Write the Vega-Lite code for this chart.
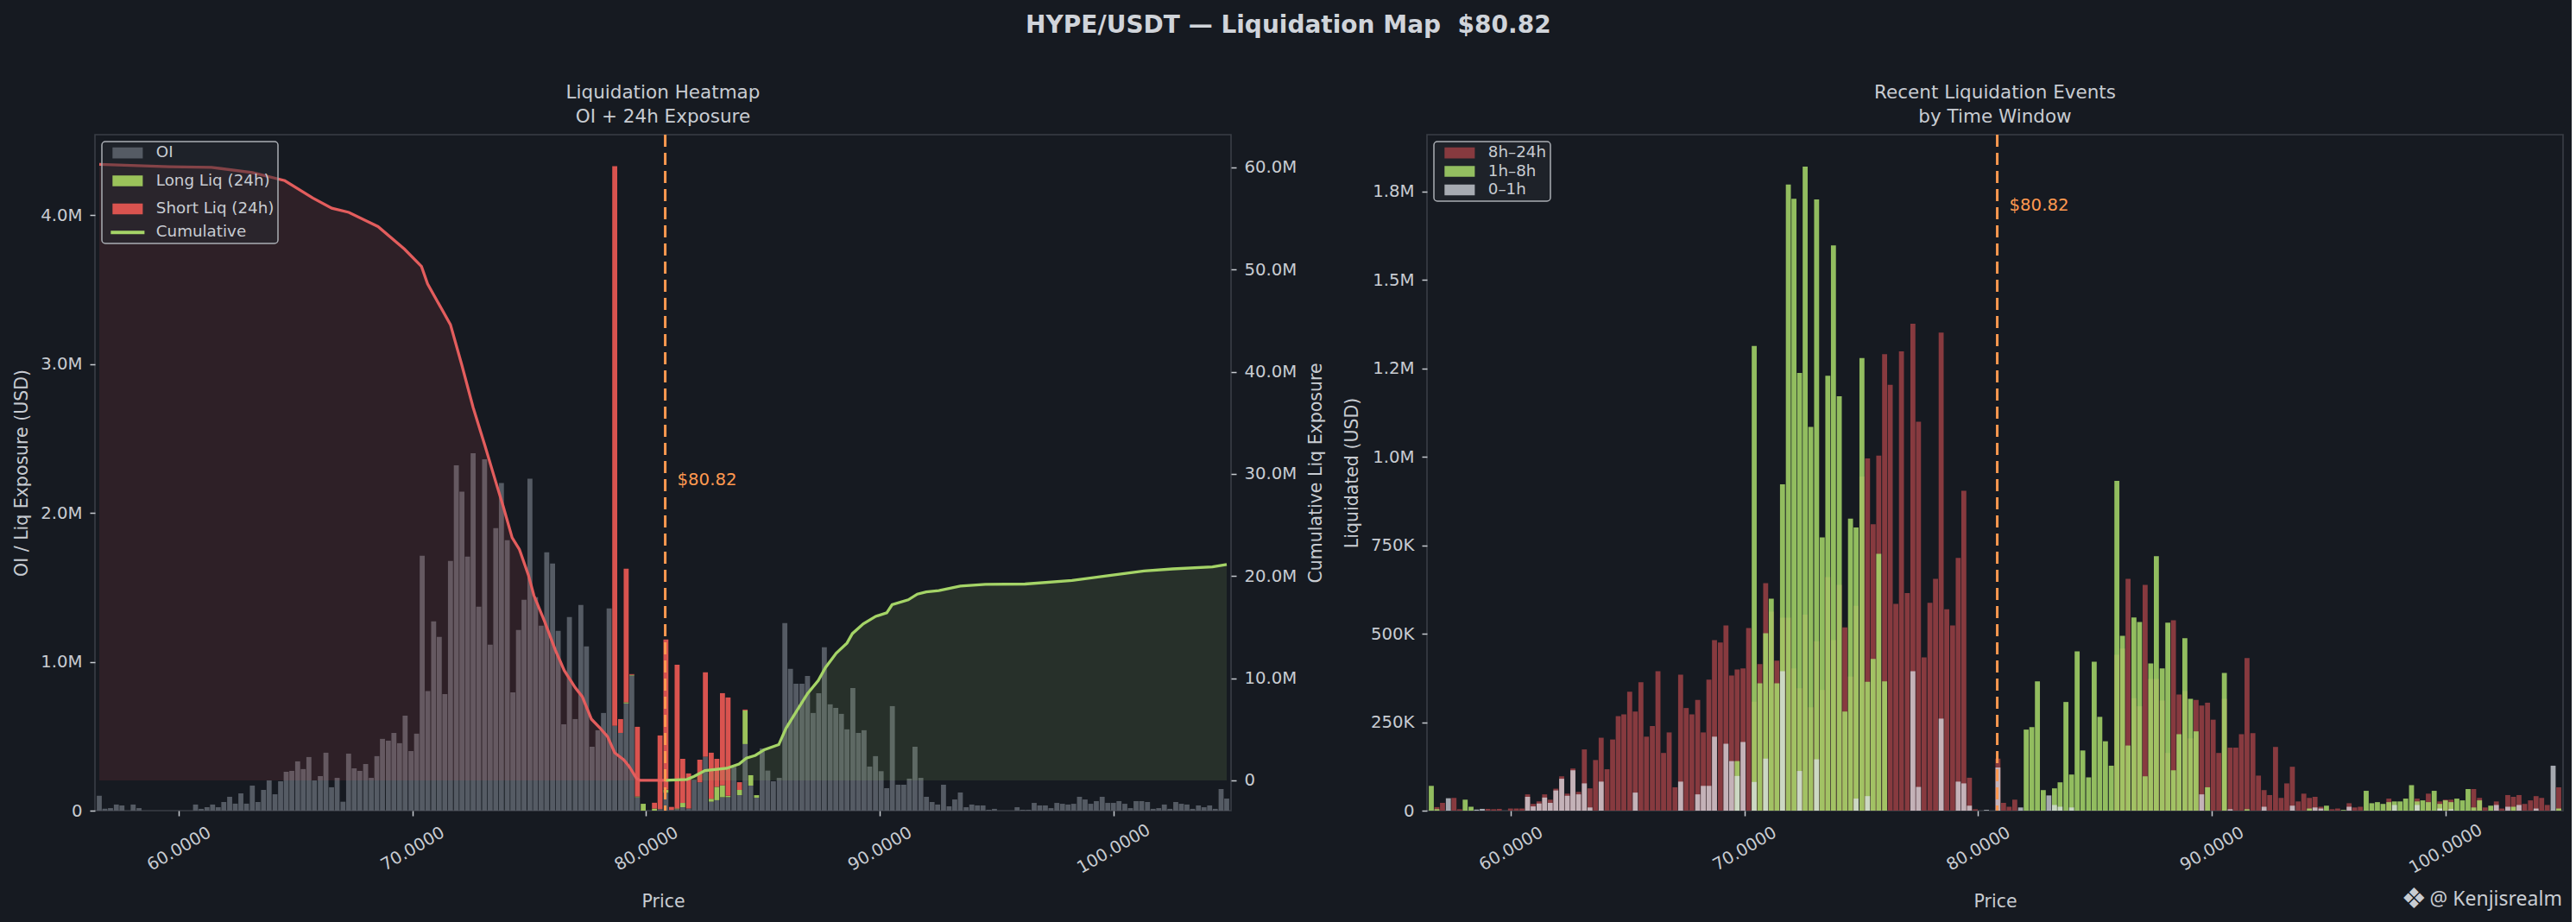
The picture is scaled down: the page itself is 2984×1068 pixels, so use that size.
{
"$schema":"https://vega.github.io/schema/vega-lite/v6.json",
"background":"#161a21",
"padding":{"left":14,"top":15,"right":9,"bottom":10},
"title":{"text":"HYPE/USDT — Liquidation Map\u00a0 $80.82","fontSize":28,"fontWeight":"bold","color":"#d0d4da","anchor":"middle","frame":"bounds","offset":52,"font":"DejaVu Sans","lineHeight":28},
"config":{
"font":"DejaVu Sans",
"view":{"stroke":"#3a3e46","strokeWidth":1.6},
"axis":{"labelFont":"DejaVu Sans","labelFontSize":19.7,"labelColor":"#c8ccd2","tickColor":"#c8ccd2","tickSize":6,"tickWidth":1.5,"domain":false,"grid":false,"titleFont":"DejaVu Sans","titleFontSize":20.5,"titleFontWeight":"normal","titleColor":"#c8ccd2","labelPadding":9,"titlePadding":11},
"title":{"font":"DejaVu Sans","fontSize":21.5,"fontWeight":"normal","color":"#c8ccd2","lineHeight":28,"offset":8.5},
"legend":{"title":null,"orient":"top-left","offset":8,"padding":4,"fillColor":"rgba(38,42,50,0.5)","strokeColor":"#aaaeb4","cornerRadius":4,"labelFont":"DejaVu Sans","labelFontSize":18.3,"labelColor":"#c8ccd2","symbolType":"M-2.78,-1H2.78V1H-2.78Z","symbolSize":159,"symbolOffset":16.7,"labelOffset":23.8,"rowPadding":2.4,"symbolStrokeWidth":0}
},
"datasets":{
"oi":[
{"p":56.60,"v":100000,"t":"OI","o":0},{"p":56.84,"v":13000,"t":"OI","o":0},{"p":57.08,"v":17000,"t":"OI","o":0},{"p":57.33,"v":41000,"t":"OI","o":0},{"p":57.57,"v":35000,"t":"OI","o":0},{"p":58.05,"v":41000,"t":"OI","o":0},{"p":58.30,"v":17000,"t":"OI","o":0},
{"p":60.72,"v":41000,"t":"OI","o":0},{"p":60.96,"v":12000,"t":"OI","o":0},{"p":61.21,"v":23000,"t":"OI","o":0},{"p":61.45,"v":41000,"t":"OI","o":0},{"p":61.69,"v":23000,"t":"OI","o":0},{"p":61.93,"v":58000,"t":"OI","o":0},{"p":62.18,"v":93000,"t":"OI","o":0},{"p":62.42,"v":47000,"t":"OI","o":0},{"p":62.66,"v":116000,"t":"OI","o":0},{"p":62.90,"v":47000,"t":"OI","o":0},
{"p":63.15,"v":168000,"t":"OI","o":0},{"p":63.39,"v":58000,"t":"OI","o":0},{"p":63.63,"v":139000,"t":"OI","o":0},{"p":63.87,"v":203000,"t":"OI","o":0},{"p":64.12,"v":110000,"t":"OI","o":0},{"p":64.36,"v":197000,"t":"OI","o":0},{"p":64.60,"v":261000,"t":"OI","o":0},{"p":64.84,"v":267000,"t":"OI","o":0},{"p":65.09,"v":331000,"t":"OI","o":0},{"p":65.33,"v":279000,"t":"OI","o":0},
{"p":65.57,"v":360000,"t":"OI","o":0},{"p":65.81,"v":203000,"t":"OI","o":0},{"p":66.06,"v":232000,"t":"OI","o":0},{"p":66.30,"v":389000,"t":"OI","o":0},{"p":66.54,"v":157000,"t":"OI","o":0},{"p":66.78,"v":220000,"t":"OI","o":0},{"p":67.03,"v":60000,"t":"OI","o":0},{"p":67.27,"v":383000,"t":"OI","o":0},{"p":67.51,"v":284000,"t":"OI","o":0},{"p":67.75,"v":267000,"t":"OI","o":0},
{"p":68.00,"v":313000,"t":"OI","o":0},{"p":68.24,"v":220000,"t":"OI","o":0},{"p":68.48,"v":366000,"t":"OI","o":0},{"p":68.72,"v":482000,"t":"OI","o":0},{"p":68.97,"v":470000,"t":"OI","o":0},{"p":69.21,"v":522000,"t":"OI","o":0},{"p":69.45,"v":453000,"t":"OI","o":0},{"p":69.69,"v":638000,"t":"OI","o":0},{"p":69.94,"v":400000,"t":"OI","o":0},{"p":70.18,"v":517000,"t":"OI","o":0},
{"p":70.42,"v":1712000,"t":"OI","o":0},{"p":70.66,"v":803000,"t":"OI","o":0},{"p":70.91,"v":1271000,"t":"OI","o":0},{"p":71.15,"v":1167000,"t":"OI","o":0},{"p":71.39,"v":783000,"t":"OI","o":0},{"p":71.63,"v":1677000,"t":"OI","o":0},{"p":71.88,"v":2320000,"t":"OI","o":0},{"p":72.12,"v":2142000,"t":"OI","o":0},{"p":72.36,"v":1706000,"t":"OI","o":0},{"p":72.60,"v":2400000,"t":"OI","o":0},
{"p":72.84,"v":1370000,"t":"OI","o":0},{"p":73.09,"v":2360000,"t":"OI","o":0},{"p":73.33,"v":1114000,"t":"OI","o":0},{"p":73.57,"v":1898000,"t":"OI","o":0},{"p":73.81,"v":2200000,"t":"OI","o":0},{"p":74.06,"v":1817000,"t":"OI","o":0},{"p":74.30,"v":795000,"t":"OI","o":0},{"p":74.54,"v":1213000,"t":"OI","o":0},{"p":74.78,"v":1416000,"t":"OI","o":0},{"p":75.03,"v":2230000,"t":"OI","o":0},
{"p":75.27,"v":1434000,"t":"OI","o":0},{"p":75.51,"v":1242000,"t":"OI","o":0},{"p":75.75,"v":1735000,"t":"OI","o":0},{"p":76.00,"v":1660000,"t":"OI","o":0},{"p":76.24,"v":1207000,"t":"OI","o":0},{"p":76.48,"v":580000,"t":"OI","o":0},{"p":76.72,"v":1300000,"t":"OI","o":0},{"p":76.97,"v":615000,"t":"OI","o":0},{"p":77.21,"v":1381000,"t":"OI","o":0},{"p":77.45,"v":1103000,"t":"OI","o":0},
{"p":77.69,"v":429000,"t":"OI","o":0},{"p":77.94,"v":540000,"t":"OI","o":0},{"p":78.18,"v":656000,"t":"OI","o":0},{"p":78.42,"v":1358000,"t":"OI","o":0},{"p":78.66,"v":569000,"t":"OI","o":0},{"p":78.91,"v":522000,"t":"OI","o":0},{"p":79.15,"v":720000,"t":"OI","o":0},{"p":79.39,"v":907000,"t":"OI","o":0},{"p":79.63,"v":90000,"t":"OI","o":0},{"p":80.60,"v":10000,"t":"OI","o":0},
{"p":80.85,"v":120000,"t":"OI","o":0},{"p":81.09,"v":5000,"t":"OI","o":0},{"p":81.33,"v":10000,"t":"OI","o":0},{"p":81.57,"v":23000,"t":"OI","o":0},{"p":81.82,"v":14000,"t":"OI","o":0},{"p":82.06,"v":207000,"t":"OI","o":0},{"p":82.30,"v":190000,"t":"OI","o":0},{"p":82.54,"v":362000,"t":"OI","o":0},{"p":82.79,"v":60000,"t":"OI","o":0},{"p":83.03,"v":70000,"t":"OI","o":0},
{"p":83.27,"v":90000,"t":"OI","o":0},{"p":83.51,"v":90000,"t":"OI","o":0},{"p":83.76,"v":294000,"t":"OI","o":0},{"p":84.00,"v":104000,"t":"OI","o":0},{"p":84.24,"v":447000,"t":"OI","o":0},{"p":84.48,"v":168000,"t":"OI","o":0},{"p":84.73,"v":87000,"t":"OI","o":0},{"p":84.97,"v":418000,"t":"OI","o":0},{"p":85.21,"v":269000,"t":"OI","o":0},{"p":85.45,"v":197000,"t":"OI","o":0},
{"p":85.70,"v":220000,"t":"OI","o":0},{"p":85.94,"v":1259000,"t":"OI","o":0},{"p":86.18,"v":952000,"t":"OI","o":0},{"p":86.42,"v":853000,"t":"OI","o":0},{"p":86.67,"v":853000,"t":"OI","o":0},{"p":86.91,"v":905000,"t":"OI","o":0},{"p":87.15,"v":656000,"t":"OI","o":0},{"p":87.39,"v":789000,"t":"OI","o":0},{"p":87.63,"v":1097000,"t":"OI","o":0},{"p":87.88,"v":714000,"t":"OI","o":0},
{"p":88.12,"v":690000,"t":"OI","o":0},{"p":88.36,"v":650000,"t":"OI","o":0},{"p":88.60,"v":546000,"t":"OI","o":0},{"p":88.85,"v":824000,"t":"OI","o":0},{"p":89.09,"v":522000,"t":"OI","o":0},{"p":89.33,"v":540000,"t":"OI","o":0},{"p":89.57,"v":296000,"t":"OI","o":0},{"p":89.82,"v":366000,"t":"OI","o":0},{"p":90.06,"v":265000,"t":"OI","o":0},{"p":90.30,"v":151000,"t":"OI","o":0},
{"p":90.54,"v":702000,"t":"OI","o":0},{"p":90.79,"v":174000,"t":"OI","o":0},{"p":91.03,"v":174000,"t":"OI","o":0},{"p":91.27,"v":215000,"t":"OI","o":0},{"p":91.51,"v":429000,"t":"OI","o":0},{"p":91.76,"v":220000,"t":"OI","o":0},{"p":92.00,"v":93000,"t":"OI","o":0},{"p":92.24,"v":58000,"t":"OI","o":0},{"p":92.48,"v":41000,"t":"OI","o":0},{"p":92.73,"v":174000,"t":"OI","o":0},
{"p":92.97,"v":29000,"t":"OI","o":0},{"p":93.21,"v":75000,"t":"OI","o":0},{"p":93.45,"v":122000,"t":"OI","o":0},{"p":93.70,"v":23000,"t":"OI","o":0},{"p":93.94,"v":41000,"t":"OI","o":0},{"p":94.18,"v":35000,"t":"OI","o":0},{"p":94.42,"v":35000,"t":"OI","o":0},{"p":94.67,"v":6000,"t":"OI","o":0},{"p":94.91,"v":12000,"t":"OI","o":0},{"p":95.88,"v":23000,"t":"OI","o":0},
{"p":96.12,"v":6000,"t":"OI","o":0},{"p":96.36,"v":6000,"t":"OI","o":0},{"p":96.61,"v":52000,"t":"OI","o":0},{"p":96.85,"v":35000,"t":"OI","o":0},{"p":97.09,"v":35000,"t":"OI","o":0},{"p":97.33,"v":17000,"t":"OI","o":0},{"p":97.58,"v":52000,"t":"OI","o":0},{"p":97.82,"v":46000,"t":"OI","o":0},{"p":98.06,"v":41000,"t":"OI","o":0},{"p":98.30,"v":46000,"t":"OI","o":0},
{"p":98.55,"v":93000,"t":"OI","o":0},{"p":98.79,"v":75000,"t":"OI","o":0},{"p":99.03,"v":46000,"t":"OI","o":0},{"p":99.27,"v":64000,"t":"OI","o":0},{"p":99.52,"v":93000,"t":"OI","o":0},{"p":99.76,"v":52000,"t":"OI","o":0},{"p":100.00,"v":52000,"t":"OI","o":0},{"p":100.24,"v":64000,"t":"OI","o":0},{"p":100.49,"v":46000,"t":"OI","o":0},{"p":100.73,"v":17000,"t":"OI","o":0},
{"p":100.97,"v":64000,"t":"OI","o":0},{"p":101.21,"v":64000,"t":"OI","o":0},{"p":101.46,"v":58000,"t":"OI","o":0},{"p":101.70,"v":12000,"t":"OI","o":0},{"p":101.94,"v":17000,"t":"OI","o":0},{"p":102.18,"v":41000,"t":"OI","o":0},{"p":102.42,"v":12000,"t":"OI","o":0},{"p":102.67,"v":58000,"t":"OI","o":0},{"p":102.91,"v":46000,"t":"OI","o":0},{"p":103.15,"v":41000,"t":"OI","o":0},
{"p":103.39,"v":12000,"t":"OI","o":0},{"p":103.64,"v":35000,"t":"OI","o":0},{"p":103.88,"v":23000,"t":"OI","o":0},{"p":104.12,"v":35000,"t":"OI","o":0},{"p":104.36,"v":12000,"t":"OI","o":0},{"p":104.61,"v":145000,"t":"OI","o":0},{"p":104.85,"v":81000,"t":"OI","o":0},
{"p":79.15,"v":8000,"t":"Long Liq (24h)","o":1},{"p":79.39,"v":5000,"t":"Long Liq (24h)","o":1},{"p":79.63,"v":5000,"t":"Long Liq (24h)","o":1},{"p":79.88,"v":46000,"t":"Long Liq (24h)","o":1},{"p":80.36,"v":14000,"t":"Long Liq (24h)","o":1},{"p":80.85,"v":20000,"t":"Long Liq (24h)","o":1},{"p":81.33,"v":5000,"t":"Long Liq (24h)","o":1},{"p":81.57,"v":29000,"t":"Long Liq (24h)","o":1},
{"p":82.79,"v":20000,"t":"Long Liq (24h)","o":1},{"p":83.03,"v":90000,"t":"Long Liq (24h)","o":1},{"p":83.27,"v":80000,"t":"Long Liq (24h)","o":1},{"p":83.51,"v":10000,"t":"Long Liq (24h)","o":1},{"p":84.00,"v":35000,"t":"Long Liq (24h)","o":1},{"p":84.24,"v":226000,"t":"Long Liq (24h)","o":1},{"p":84.48,"v":70000,"t":"Long Liq (24h)","o":1},{"p":84.73,"v":17000,"t":"Long Liq (24h)","o":1},
{"p":78.66,"v":3760000,"t":"Short Liq (24h)","o":2},{"p":78.91,"v":93000,"t":"Short Liq (24h)","o":2},{"p":79.15,"v":897000,"t":"Short Liq (24h)","o":2},{"p":79.39,"v":5000,"t":"Short Liq (24h)","o":2},{"p":79.63,"v":468000,"t":"Short Liq (24h)","o":2},{"p":80.36,"v":39000,"t":"Short Liq (24h)","o":2},{"p":80.60,"v":495000,"t":"Short Liq (24h)","o":2},{"p":80.85,"v":1010000,"t":"Short Liq (24h)","o":2},
{"p":81.09,"v":20000,"t":"Short Liq (24h)","o":2},{"p":81.33,"v":965000,"t":"Short Liq (24h)","o":2},{"p":81.57,"v":296000,"t":"Short Liq (24h)","o":2},{"p":81.82,"v":236000,"t":"Short Liq (24h)","o":2},{"p":82.30,"v":152000,"t":"Short Liq (24h)","o":2},{"p":82.54,"v":567000,"t":"Short Liq (24h)","o":2},{"p":82.79,"v":309000,"t":"Short Liq (24h)","o":2},{"p":83.03,"v":188000,"t":"Short Liq (24h)","o":2},
{"p":83.27,"v":619000,"t":"Short Liq (24h)","o":2},{"p":83.51,"v":660000,"t":"Short Liq (24h)","o":2},{"p":84.00,"v":52000,"t":"Short Liq (24h)","o":2},{"p":84.24,"v":6000,"t":"Short Liq (24h)","o":2}
],
"cum":[
{"p":56.60,"v":60300000,"s":"short"},{"p":59.60,"v":60070000,"s":"short"},{"p":61.40,"v":60000000,"s":"short"},{"p":63.15,"v":59500000,"s":"short"},{"p":64.54,"v":58700000,"s":"short"},{"p":65.74,"v":57000000,"s":"short"},{"p":66.55,"v":56000000,"s":"short"},{"p":67.28,"v":55600000,"s":"short"},{"p":68.53,"v":54200000,"s":"short"},{"p":69.66,"v":52000000,"s":"short"},
{"p":70.39,"v":50300000,"s":"short"},{"p":70.65,"v":48600000,"s":"short"},{"p":71.63,"v":44600000,"s":"short"},{"p":72.11,"v":40700000,"s":"short"},{"p":72.60,"v":36500000,"s":"short"},{"p":73.10,"v":32800000,"s":"short"},{"p":73.57,"v":29200000,"s":"short"},{"p":73.89,"v":26800000,"s":"short"},{"p":74.27,"v":23750000,"s":"short"},{"p":74.58,"v":22600000,"s":"short"},
{"p":74.97,"v":20060000,"s":"short"},{"p":75.20,"v":18100000,"s":"short"},{"p":75.66,"v":15550000,"s":"short"},{"p":76.12,"v":12750000,"s":"short"},{"p":76.50,"v":10760000,"s":"short"},{"p":76.97,"v":9070000,"s":"short"},{"p":77.27,"v":8200000,"s":"short"},{"p":77.66,"v":6000000,"s":"short"},{"p":78.04,"v":5100000,"s":"short"},{"p":78.35,"v":4300000,"s":"short"},
{"p":78.66,"v":2700000,"s":"short"},{"p":79.05,"v":2000000,"s":"short"},{"p":79.28,"v":1350000,"s":"short"},{"p":79.59,"v":200000,"s":"short"},{"p":79.74,"v":0,"s":"short"},{"p":80.82,"v":0,"s":"short"},
{"p":80.82,"v":0,"s":"long"},{"p":81.75,"v":100000,"s":"long"},{"p":82.06,"v":400000,"s":"long"},{"p":82.52,"v":960000,"s":"long"},{"p":83.45,"v":1180000,"s":"long"},{"p":83.98,"v":1600000,"s":"long"},{"p":84.29,"v":2170000,"s":"long"},{"p":84.68,"v":2450000,"s":"long"},{"p":85.06,"v":3000000,"s":"long"},{"p":85.68,"v":3500000,"s":"long"},
{"p":85.99,"v":5100000,"s":"long"},{"p":86.45,"v":6800000,"s":"long"},{"p":86.91,"v":8500000,"s":"long"},{"p":87.37,"v":9780000,"s":"long"},{"p":87.68,"v":11050000,"s":"long"},{"p":88.14,"v":12450000,"s":"long"},{"p":88.60,"v":13440000,"s":"long"},{"p":88.83,"v":14370000,"s":"long"},{"p":89.30,"v":15330000,"s":"long"},{"p":89.83,"v":16060000,"s":"long"},
{"p":90.30,"v":16400000,"s":"long"},{"p":90.53,"v":17190000,"s":"long"},{"p":91.22,"v":17670000,"s":"long"},{"p":91.61,"v":18230000,"s":"long"},{"p":91.99,"v":18450000,"s":"long"},{"p":92.53,"v":18570000,"s":"long"},{"p":93.45,"v":19020000,"s":"long"},{"p":94.53,"v":19190000,"s":"long"},{"p":96.22,"v":19220000,"s":"long"},{"p":98.23,"v":19560000,"s":"long"},
{"p":99.62,"v":20000000,"s":"long"},{"p":101.31,"v":20500000,"s":"long"},{"p":102.54,"v":20700000,"s":"long"},{"p":104.24,"v":20900000,"s":"long"},{"p":104.85,"v":21130000,"s":"long"}
],
"ev":[
{"p":56.84,"v":10000,"w":"8h–24h"},{"p":57.08,"v":22000,"w":"8h–24h"},{"p":57.57,"v":36000,"w":"8h–24h"},{"p":57.81,"v":4000,"w":"8h–24h"},{"p":59.02,"v":5000,"w":"8h–24h"},{"p":59.27,"v":4000,"w":"8h–24h"},{"p":59.51,"v":5000,"w":"8h–24h"},{"p":59.99,"v":6000,"w":"8h–24h"},{"p":60.24,"v":6000,"w":"8h–24h"},{"p":60.48,"v":6000,"w":"8h–24h"},
{"p":60.72,"v":46000,"w":"8h–24h"},{"p":60.96,"v":19000,"w":"8h–24h"},{"p":61.21,"v":26000,"w":"8h–24h"},{"p":61.45,"v":46000,"w":"8h–24h"},{"p":61.69,"v":31000,"w":"8h–24h"},{"p":61.93,"v":62000,"w":"8h–24h"},{"p":62.18,"v":97000,"w":"8h–24h"},{"p":62.42,"v":48000,"w":"8h–24h"},{"p":62.66,"v":119000,"w":"8h–24h"},{"p":62.90,"v":53000,"w":"8h–24h"},
{"p":63.15,"v":173000,"w":"8h–24h"},{"p":63.39,"v":63000,"w":"8h–24h"},{"p":63.63,"v":143000,"w":"8h–24h"},{"p":63.87,"v":206000,"w":"8h–24h"},{"p":64.12,"v":117000,"w":"8h–24h"},{"p":64.36,"v":201000,"w":"8h–24h"},{"p":64.60,"v":267000,"w":"8h–24h"},{"p":64.84,"v":272000,"w":"8h–24h"},{"p":65.09,"v":336000,"w":"8h–24h"},{"p":65.33,"v":280000,"w":"8h–24h"},
{"p":65.57,"v":363000,"w":"8h–24h"},{"p":65.81,"v":209000,"w":"8h–24h"},{"p":66.06,"v":239000,"w":"8h–24h"},{"p":66.30,"v":394000,"w":"8h–24h"},{"p":66.54,"v":163000,"w":"8h–24h"},{"p":66.78,"v":221000,"w":"8h–24h"},{"p":67.03,"v":66000,"w":"8h–24h"},{"p":67.27,"v":384000,"w":"8h–24h"},{"p":67.51,"v":290000,"w":"8h–24h"},{"p":67.75,"v":272000,"w":"8h–24h"},
{"p":68.00,"v":313000,"w":"8h–24h"},{"p":68.24,"v":221000,"w":"8h–24h"},{"p":68.48,"v":370000,"w":"8h–24h"},{"p":68.72,"v":482000,"w":"8h–24h"},{"p":68.97,"v":475000,"w":"8h–24h"},{"p":69.21,"v":523000,"w":"8h–24h"},{"p":69.45,"v":382000,"w":"8h–24h"},{"p":69.69,"v":399000,"w":"8h–24h"},{"p":69.94,"v":402000,"w":"8h–24h"},{"p":70.18,"v":516000,"w":"8h–24h"},
{"p":70.42,"v":308000,"w":"8h–24h"},{"p":70.66,"v":414000,"w":"8h–24h"},{"p":70.91,"v":643000,"w":"8h–24h"},{"p":71.15,"v":562000,"w":"8h–24h"},{"p":71.39,"v":424000,"w":"8h–24h"},{"p":71.63,"v":545000,"w":"8h–24h"},{"p":71.88,"v":545000,"w":"8h–24h"},{"p":72.12,"v":402000,"w":"8h–24h"},{"p":72.36,"v":346000,"w":"8h–24h"},{"p":72.60,"v":554000,"w":"8h–24h"},
{"p":72.84,"v":292000,"w":"8h–24h"},{"p":73.09,"v":479000,"w":"8h–24h"},{"p":73.33,"v":341000,"w":"8h–24h"},{"p":73.57,"v":660000,"w":"8h–24h"},{"p":73.81,"v":482000,"w":"8h–24h"},{"p":74.06,"v":638000,"w":"8h–24h"},{"p":74.30,"v":518000,"w":"8h–24h"},{"p":74.54,"v":379000,"w":"8h–24h"},{"p":74.78,"v":579000,"w":"8h–24h"},{"p":75.03,"v":944000,"w":"8h–24h"},
{"p":75.27,"v":995000,"w":"8h–24h"},{"p":75.51,"v":809000,"w":"8h–24h"},{"p":75.75,"v":1003000,"w":"8h–24h"},{"p":76.00,"v":1290000,"w":"8h–24h"},{"p":76.24,"v":1203000,"w":"8h–24h"},{"p":76.48,"v":584000,"w":"8h–24h"},{"p":76.72,"v":1298000,"w":"8h–24h"},{"p":76.97,"v":615000,"w":"8h–24h"},{"p":77.21,"v":1376000,"w":"8h–24h"},{"p":77.45,"v":1099000,"w":"8h–24h"},
{"p":77.69,"v":433000,"w":"8h–24h"},{"p":77.94,"v":587000,"w":"8h–24h"},{"p":78.18,"v":655000,"w":"8h–24h"},{"p":78.42,"v":1351000,"w":"8h–24h"},{"p":78.66,"v":569000,"w":"8h–24h"},{"p":78.91,"v":523000,"w":"8h–24h"},{"p":79.15,"v":714000,"w":"8h–24h"},{"p":79.39,"v":904000,"w":"8h–24h"},{"p":79.63,"v":93000,"w":"8h–24h"},{"p":79.88,"v":4000,"w":"8h–24h"},
{"p":80.85,"v":147000,"w":"8h–24h"},{"p":81.09,"v":22000,"w":"8h–24h"},{"p":81.33,"v":11000,"w":"8h–24h"},{"p":81.57,"v":31000,"w":"8h–24h"},
{"p":85.94,"v":440000,"w":"8h–24h"},{"p":86.18,"v":458000,"w":"8h–24h"},{"p":86.42,"v":655000,"w":"8h–24h"},{"p":86.67,"v":318000,"w":"8h–24h"},{"p":86.91,"v":295000,"w":"8h–24h"},{"p":87.15,"v":638000,"w":"8h–24h"},{"p":87.39,"v":372000,"w":"8h–24h"},{"p":87.63,"v":372000,"w":"8h–24h"},{"p":87.88,"v":311000,"w":"8h–24h"},{"p":88.12,"v":163000,"w":"8h–24h"},
{"p":88.36,"v":538000,"w":"8h–24h"},{"p":88.60,"v":328000,"w":"8h–24h"},{"p":88.85,"v":338000,"w":"8h–24h"},{"p":89.09,"v":204000,"w":"8h–24h"},{"p":89.33,"v":313000,"w":"8h–24h"},{"p":89.57,"v":297000,"w":"8h–24h"},{"p":89.82,"v":305000,"w":"8h–24h"},{"p":90.06,"v":257000,"w":"8h–24h"},{"p":90.30,"v":163000,"w":"8h–24h"},{"p":90.54,"v":316000,"w":"8h–24h"},
{"p":90.79,"v":178000,"w":"8h–24h"},{"p":91.03,"v":178000,"w":"8h–24h"},{"p":91.27,"v":216000,"w":"8h–24h"},{"p":91.51,"v":431000,"w":"8h–24h"},{"p":91.76,"v":219000,"w":"8h–24h"},{"p":92.00,"v":99000,"w":"8h–24h"},{"p":92.24,"v":58000,"w":"8h–24h"},{"p":92.48,"v":44000,"w":"8h–24h"},{"p":92.73,"v":180000,"w":"8h–24h"},{"p":92.97,"v":36000,"w":"8h–24h"},
{"p":93.21,"v":77000,"w":"8h–24h"},{"p":93.45,"v":124000,"w":"8h–24h"},{"p":93.70,"v":26000,"w":"8h–24h"},{"p":93.94,"v":48000,"w":"8h–24h"},{"p":94.18,"v":36000,"w":"8h–24h"},{"p":94.42,"v":39000,"w":"8h–24h"},{"p":94.67,"v":11000,"w":"8h–24h"},{"p":95.15,"v":4000,"w":"8h–24h"},{"p":95.39,"v":6000,"w":"8h–24h"},{"p":95.88,"v":21000,"w":"8h–24h"},
{"p":96.12,"v":9000,"w":"8h–24h"},{"p":96.36,"v":11000,"w":"8h–24h"},{"p":97.58,"v":34000,"w":"8h–24h"},{"p":98.79,"v":34000,"w":"8h–24h"},{"p":99.27,"v":48000,"w":"8h–24h"},{"p":99.76,"v":26000,"w":"8h–24h"},{"p":100.00,"v":31000,"w":"8h–24h"},{"p":100.24,"v":31000,"w":"8h–24h"},{"p":101.21,"v":61000,"w":"8h–24h"},{"p":101.46,"v":36000,"w":"8h–24h"},
{"p":101.70,"v":9000,"w":"8h–24h"},{"p":102.18,"v":26000,"w":"8h–24h"},{"p":102.42,"v":6000,"w":"8h–24h"},{"p":102.67,"v":44000,"w":"8h–24h"},{"p":102.91,"v":39000,"w":"8h–24h"},{"p":103.15,"v":44000,"w":"8h–24h"},{"p":103.39,"v":19000,"w":"8h–24h"},{"p":103.64,"v":29000,"w":"8h–24h"},{"p":103.88,"v":41000,"w":"8h–24h"},{"p":104.12,"v":36000,"w":"8h–24h"},
{"p":104.36,"v":16000,"w":"8h–24h"},{"p":104.85,"v":66000,"w":"8h–24h"},
{"p":56.60,"v":70000,"w":"1h–8h"},{"p":56.84,"v":4000,"w":"1h–8h"},{"p":58.05,"v":31000,"w":"1h–8h"},{"p":58.30,"v":11000,"w":"1h–8h"},{"p":69.69,"v":140000,"w":"1h–8h"},{"p":70.42,"v":1313000,"w":"1h–8h"},{"p":70.66,"v":360000,"w":"1h–8h"},{"p":70.91,"v":501000,"w":"1h–8h"},{"p":71.15,"v":599000,"w":"1h–8h"},{"p":71.39,"v":360000,"w":"1h–8h"},
{"p":71.63,"v":922000,"w":"1h–8h"},{"p":71.88,"v":1769000,"w":"1h–8h"},{"p":72.12,"v":1729000,"w":"1h–8h"},{"p":72.36,"v":1237000,"w":"1h–8h"},{"p":72.60,"v":1820000,"w":"1h–8h"},{"p":72.84,"v":1084000,"w":"1h–8h"},{"p":73.09,"v":1727000,"w":"1h–8h"},{"p":73.33,"v":772000,"w":"1h–8h"},{"p":73.57,"v":1229000,"w":"1h–8h"},{"p":73.81,"v":1597000,"w":"1h–8h"},
{"p":74.06,"v":1171000,"w":"1h–8h"},{"p":74.30,"v":280000,"w":"1h–8h"},{"p":74.54,"v":825000,"w":"1h–8h"},{"p":74.78,"v":800000,"w":"1h–8h"},{"p":75.03,"v":1279000,"w":"1h–8h"},{"p":75.27,"v":364000,"w":"1h–8h"},{"p":75.51,"v":429000,"w":"1h–8h"},{"p":75.75,"v":726000,"w":"1h–8h"},{"p":76.00,"v":365000,"w":"1h–8h"},
{"p":82.06,"v":229000,"w":"1h–8h"},{"p":82.30,"v":236000,"w":"1h–8h"},{"p":82.54,"v":365000,"w":"1h–8h"},{"p":82.79,"v":58000,"w":"1h–8h"},{"p":83.27,"v":63000,"w":"1h–8h"},{"p":83.51,"v":80000,"w":"1h–8h"},{"p":83.76,"v":307000,"w":"1h–8h"},{"p":84.00,"v":102000,"w":"1h–8h"},{"p":84.24,"v":450000,"w":"1h–8h"},{"p":84.48,"v":170000,"w":"1h–8h"},
{"p":84.73,"v":94000,"w":"1h–8h"},{"p":84.97,"v":421000,"w":"1h–8h"},{"p":85.21,"v":265000,"w":"1h–8h"},{"p":85.45,"v":196000,"w":"1h–8h"},{"p":85.70,"v":127000,"w":"1h–8h"},{"p":85.94,"v":932000,"w":"1h–8h"},{"p":86.18,"v":494000,"w":"1h–8h"},{"p":86.42,"v":184000,"w":"1h–8h"},{"p":86.67,"v":546000,"w":"1h–8h"},{"p":86.91,"v":533000,"w":"1h–8h"},
{"p":87.15,"v":97000,"w":"1h–8h"},{"p":87.39,"v":416000,"w":"1h–8h"},{"p":87.63,"v":719000,"w":"1h–8h"},{"p":87.88,"v":402000,"w":"1h–8h"},{"p":88.12,"v":531000,"w":"1h–8h"},{"p":88.36,"v":114000,"w":"1h–8h"},{"p":88.60,"v":216000,"w":"1h–8h"},{"p":88.85,"v":487000,"w":"1h–8h"},{"p":89.09,"v":316000,"w":"1h–8h"},{"p":89.33,"v":224000,"w":"1h–8h"},
{"p":89.82,"v":66000,"w":"1h–8h"},{"p":90.54,"v":389000,"w":"1h–8h"},{"p":91.51,"v":4000,"w":"1h–8h"},{"p":94.18,"v":6000,"w":"1h–8h"},{"p":94.91,"v":14000,"w":"1h–8h"},{"p":95.64,"v":2000,"w":"1h–8h"},{"p":96.61,"v":56000,"w":"1h–8h"},{"p":96.85,"v":21000,"w":"1h–8h"},{"p":97.09,"v":24000,"w":"1h–8h"},{"p":97.33,"v":19000,"w":"1h–8h"},
{"p":97.58,"v":24000,"w":"1h–8h"},{"p":97.82,"v":26000,"w":"1h–8h"},{"p":98.06,"v":26000,"w":"1h–8h"},{"p":98.30,"v":34000,"w":"1h–8h"},{"p":98.55,"v":72000,"w":"1h–8h"},{"p":98.79,"v":26000,"w":"1h–8h"},{"p":99.03,"v":29000,"w":"1h–8h"},{"p":99.27,"v":24000,"w":"1h–8h"},{"p":99.52,"v":56000,"w":"1h–8h"},{"p":99.76,"v":19000,"w":"1h–8h"},
{"p":100.00,"v":29000,"w":"1h–8h"},{"p":100.24,"v":24000,"w":"1h–8h"},{"p":100.49,"v":34000,"w":"1h–8h"},{"p":100.73,"v":29000,"w":"1h–8h"},{"p":100.97,"v":61000,"w":"1h–8h"},{"p":101.21,"v":9000,"w":"1h–8h"},{"p":101.46,"v":29000,"w":"1h–8h"},{"p":101.94,"v":14000,"w":"1h–8h"},{"p":102.91,"v":11000,"w":"1h–8h"},{"p":104.85,"v":6000,"w":"1h–8h"},
{"p":57.33,"v":35000,"w":"0–1h"},{"p":58.54,"v":3000,"w":"0–1h"},{"p":58.78,"v":5000,"w":"0–1h"},{"p":60.72,"v":39000,"w":"0–1h"},{"p":60.96,"v":12000,"w":"0–1h"},{"p":61.21,"v":20000,"w":"0–1h"},{"p":61.45,"v":37000,"w":"0–1h"},{"p":61.69,"v":22000,"w":"0–1h"},{"p":61.93,"v":57000,"w":"0–1h"},{"p":62.18,"v":90000,"w":"0–1h"},
{"p":62.42,"v":42000,"w":"0–1h"},{"p":62.66,"v":114000,"w":"0–1h"},{"p":62.90,"v":46000,"w":"0–1h"},{"p":63.15,"v":77000,"w":"0–1h"},{"p":63.39,"v":9000,"w":"0–1h"},{"p":63.87,"v":82000,"w":"0–1h"},{"p":65.33,"v":51000,"w":"0–1h"},{"p":67.27,"v":82000,"w":"0–1h"},{"p":68.00,"v":46000,"w":"0–1h"},{"p":68.24,"v":70000,"w":"0–1h"},
{"p":68.48,"v":70000,"w":"0–1h"},{"p":68.72,"v":209000,"w":"0–1h"},{"p":69.21,"v":189000,"w":"0–1h"},{"p":69.45,"v":140000,"w":"0–1h"},{"p":69.69,"v":98000,"w":"0–1h"},{"p":69.94,"v":194000,"w":"0–1h"},{"p":70.42,"v":81000,"w":"0–1h"},{"p":70.91,"v":147000,"w":"0–1h"},{"p":71.63,"v":394000,"w":"0–1h"},{"p":72.36,"v":112000,"w":"0–1h"},
{"p":73.09,"v":145000,"w":"0–1h"},{"p":74.78,"v":34000,"w":"0–1h"},{"p":75.27,"v":41000,"w":"0–1h"},{"p":77.21,"v":394000,"w":"0–1h"},{"p":77.45,"v":67000,"w":"0–1h"},{"p":78.42,"v":260000,"w":"0–1h"},{"p":79.15,"v":82000,"w":"0–1h"},{"p":79.39,"v":77000,"w":"0–1h"},{"p":79.63,"v":14000,"w":"0–1h"},{"p":80.36,"v":2000,"w":"0–1h"},
{"p":80.85,"v":122000,"w":"0–1h"},{"p":81.82,"v":9000,"w":"0–1h"},{"p":83.03,"v":43000,"w":"0–1h"},{"p":83.27,"v":16000,"w":"0–1h"},{"p":83.51,"v":11000,"w":"0–1h"},{"p":84.00,"v":9000,"w":"0–1h"},{"p":89.57,"v":46000,"w":"0–1h"},{"p":90.79,"v":4000,"w":"0–1h"},{"p":92.24,"v":11000,"w":"0–1h"},{"p":93.45,"v":14000,"w":"0–1h"},
{"p":94.42,"v":9000,"w":"0–1h"},{"p":94.67,"v":6000,"w":"0–1h"},{"p":95.88,"v":11000,"w":"0–1h"},{"p":97.82,"v":16000,"w":"0–1h"},{"p":98.79,"v":16000,"w":"0–1h"},{"p":99.76,"v":6000,"w":"0–1h"},{"p":100.24,"v":4000,"w":"0–1h"},{"p":102.18,"v":16000,"w":"0–1h"},{"p":102.67,"v":11000,"w":"0–1h"},{"p":103.15,"v":16000,"w":"0–1h"},
{"p":103.88,"v":6000,"w":"0–1h"},{"p":104.61,"v":127000,"w":"0–1h"}
]
},
"spacing":227,
"bounds":"flush",
"resolve":{"scale":{"color":"independent","opacity":"independent","x":"independent","y":"independent"},"legend":{"color":"independent"}},
"hconcat":[
{
"width":1316,"height":783,
"title":{"text":["Liquidation Heatmap","OI + 24h Exposure"]},
"layer":[
{"layer":[
{"data":{"name":"oi"},
"mark":{"type":"bar","size":5.8,"clip":true},
"encoding":{
"x":{"field":"p","type":"quantitative","title":"Price","scale":{"domain":[56.6,104.85],"nice":false,"zero":false},"axis":{"title":"Price","values":[60,70,80,90,100],"labelExpr":"format(datum.value, '.4f')","labelAngle":-30,"labelAlign":"center","labelBaseline":"middle","labelPadding":38,"titlePadding":20,"labelOverlap":false,"labelFlush":false}},
"y":{"field":"v","type":"quantitative","stack":"zero","title":"OI / Liq Exposure (USD)","scale":{"domain":[0,4540000],"nice":false},"axis":{"title":"OI / Liq Exposure (USD)","values":[0,1000000,2000000,3000000,4000000],"labelExpr":"datum.value === 0 ? '0' : format(datum.value / 1000000, '.1f') + 'M'"}},
"color":{"field":"t","type":"nominal","scale":{"domain":["OI","Long Liq (24h)","Short Liq (24h)","Cumulative"],"range":["#555b64","#9bc25a","#d9534f","#a5d467"]},
"legend":{"encode":{"legend":{"update":{"strokeWidth":{"value":1.5}}},"symbols":{"update":{"shape":{"signal":"datum.value === 'Cumulative' ? 'M-3.1,0H3.1' : 'M-2.78,-1H2.78V1H-2.78Z'"},"stroke":{"signal":"datum.value === 'Cumulative' ? '#a5d467' : 'transparent'"},"strokeWidth":{"value":4}}}}}},
"order":{"field":"o","type":"quantitative"}
}},
{"data":{"values":[{}]},
"mark":{"type":"text","align":"left","baseline":"middle","dx":14,"fontSize":19.7,"font":"DejaVu Sans","color":"#ff9950"},
"encoding":{"x":{"datum":80.82,"type":"quantitative"},"y":{"datum":2220000,"type":"quantitative"},"text":{"value":"$80.82"}}}
]},
{"layer":[
{"data":{"name":"cum"},"transform":[{"filter":"datum.s === 'short'"}],
"mark":{"type":"area","color":"#e05555","opacity":0.12,"clip":true},
"encoding":{
"x":{"field":"p","type":"quantitative","title":"Price","scale":{"domain":[56.6,104.85],"nice":false,"zero":false}},
"y":{"field":"v","type":"quantitative","title":"Cumulative Liq Exposure","scale":{"domain":[-2960000,63200000],"nice":false,"zero":false},"axis":{"orient":"right","title":"Cumulative Liq Exposure","values":[0,10000000,20000000,30000000,40000000,50000000,60000000],"labelExpr":"datum.value === 0 ? '0' : format(datum.value / 1000000, '.1f') + 'M'","titleAngle":270,"titleBaseline":"top","titlePadding":13}},
"y2":{"datum":0}}},
{"data":{"name":"cum"},"transform":[{"filter":"datum.s === 'long'"}],
"mark":{"type":"area","color":"#a5d467","opacity":0.12,"clip":true},
"encoding":{
"x":{"field":"p","type":"quantitative","title":"Price","scale":{"domain":[56.6,104.85],"nice":false,"zero":false}},
"y":{"field":"v","type":"quantitative","title":"Cumulative Liq Exposure","scale":{"domain":[-2960000,63200000],"nice":false,"zero":false},"axis":{"orient":"right","title":"Cumulative Liq Exposure","values":[0,10000000,20000000,30000000,40000000,50000000,60000000],"labelExpr":"datum.value === 0 ? '0' : format(datum.value / 1000000, '.1f') + 'M'","titleAngle":270,"titleBaseline":"top","titlePadding":13}},
"y2":{"datum":0}}},
{"data":{"name":"cum"},"transform":[{"filter":"datum.s === 'short'"}],
"mark":{"type":"line","color":"#e35d5d","strokeWidth":3.3,"clip":true},
"encoding":{
"x":{"field":"p","type":"quantitative","title":"Price","scale":{"domain":[56.6,104.85],"nice":false,"zero":false}},
"y":{"field":"v","type":"quantitative","title":"Cumulative Liq Exposure","scale":{"domain":[-2960000,63200000],"nice":false,"zero":false},"axis":{"orient":"right","title":"Cumulative Liq Exposure","values":[0,10000000,20000000,30000000,40000000,50000000,60000000],"labelExpr":"datum.value === 0 ? '0' : format(datum.value / 1000000, '.1f') + 'M'","titleAngle":270,"titleBaseline":"top","titlePadding":13}}}},
{"data":{"name":"cum"},"transform":[{"filter":"datum.s === 'long'"}],
"mark":{"type":"line","color":"#a5d467","strokeWidth":3.3,"clip":true},
"encoding":{
"x":{"field":"p","type":"quantitative","title":"Price","scale":{"domain":[56.6,104.85],"nice":false,"zero":false}},
"y":{"field":"v","type":"quantitative","title":"Cumulative Liq Exposure","scale":{"domain":[-2960000,63200000],"nice":false,"zero":false},"axis":{"orient":"right","title":"Cumulative Liq Exposure","values":[0,10000000,20000000,30000000,40000000,50000000,60000000],"labelExpr":"datum.value === 0 ? '0' : format(datum.value / 1000000, '.1f') + 'M'","titleAngle":270,"titleBaseline":"top","titlePadding":13}}}},
{"data":{"values":[{}]},
"mark":{"type":"rule","color":"#ff9950","strokeWidth":3,"strokeDash":[14,7]},
"encoding":{"x":{"datum":80.82,"type":"quantitative"}}}
]}
],
"resolve":{"scale":{"y":"independent"}}
},
{
"width":1316,"height":783,
"title":{"text":["Recent Liquidation Events","by Time Window"]},
"layer":[
{"data":{"name":"ev"},
"mark":{"type":"bar","size":5.8,"clip":true},
"encoding":{
"x":{"field":"p","type":"quantitative","title":"Price","scale":{"domain":[56.6,104.85],"nice":false,"zero":false},"axis":{"title":"Price","values":[60,70,80,90,100],"labelExpr":"format(datum.value, '.4f')","labelAngle":-30,"labelAlign":"center","labelBaseline":"middle","labelPadding":38,"titlePadding":20,"labelOverlap":false,"labelFlush":false}},
"y":{"field":"v","type":"quantitative","stack":null,"title":"Liquidated (USD)","scale":{"domain":[0,1910000],"nice":false},"axis":{"title":"Liquidated (USD)","values":[0,250000,500000,750000,1000000,1250000,1500000,1750000],"labelExpr":"datum.value === 0 ? '0' : datum.value < 1000000 ? format(datum.value / 1000, '.0f') + 'K' : datum.value === 1250000 ? '1.2M' : format(datum.value / 1000000, '.1f') + 'M'"}},
"color":{"field":"w","type":"nominal","scale":{"domain":["8h–24h","1h–8h","0–1h"],"range":["#873a3f","#a6d86a","#dde1e7"]},
"legend":{"encode":{"legend":{"update":{"strokeWidth":{"value":1.5}}},"symbols":{"update":{"opacity":{"signal":"datum.value === '1h–8h' ? 0.72 : 1"}}}}}},
"opacity":{"field":"w","type":"nominal","scale":{"domain":["8h–24h","1h–8h","0–1h"],"range":[1,0.72,1]},"legend":null}
}},
{"data":{"values":[{}]},
"mark":{"type":"rule","color":"#ff9950","strokeWidth":3,"strokeDash":[14,7]},
"encoding":{"x":{"datum":80.82,"type":"quantitative"}}},
{"data":{"values":[{}]},
"mark":{"type":"text","align":"left","baseline":"middle","dx":14,"fontSize":19.7,"font":"DejaVu Sans","color":"#ff9950"},
"encoding":{"x":{"datum":80.82,"type":"quantitative"},"y":{"datum":1710000,"type":"quantitative"},"text":{"value":"$80.82"}}},
{"data":{"values":[{}]},
"mark":{"type":"text","align":"center","baseline":"middle","fontSize":33,"font":"DejaVu Sans","color":"#c8ccd2"},
"encoding":{"x":{"datum":98.65,"type":"quantitative"},"y":{"datum":-251500,"type":"quantitative"},"text":{"value":"❖"}}},
{"data":{"values":[{}]},
"mark":{"type":"text","align":"left","baseline":"middle","fontSize":23,"font":"Noto Sans","color":"#c8ccd2"},
"encoding":{"x":{"datum":99.33,"type":"quantitative"},"y":{"datum":-251500,"type":"quantitative"},"text":{"value":"@ Kenjisrealm"}}}
]
}
]
}
